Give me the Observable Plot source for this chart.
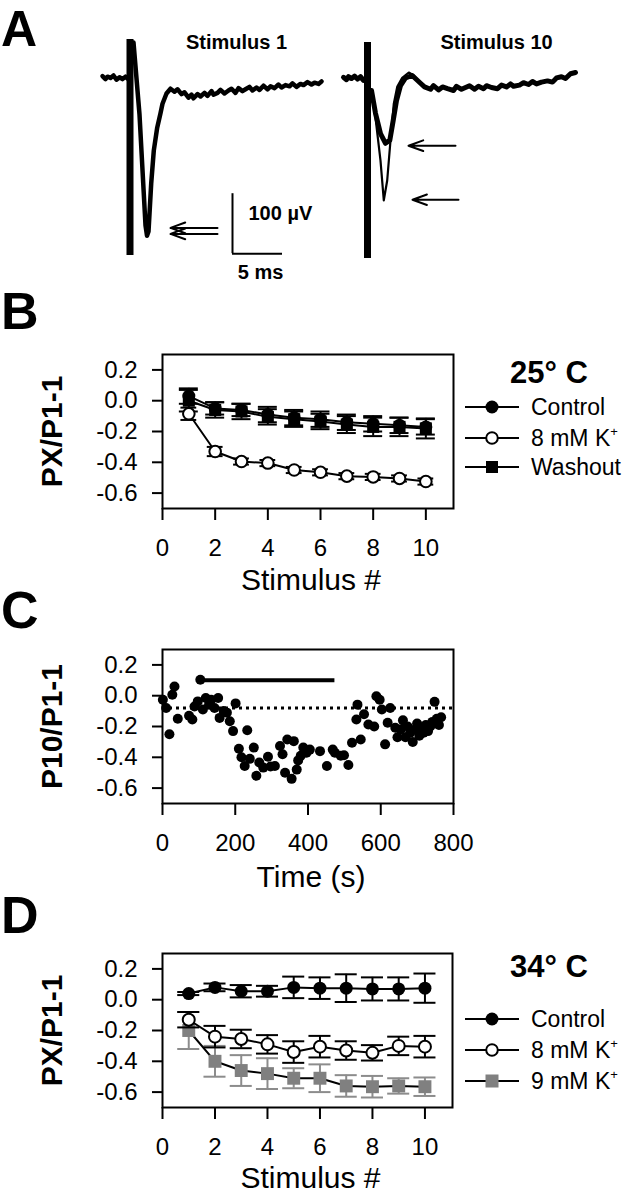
<!DOCTYPE html>
<html><head><meta charset="utf-8">
<script src="https://cdn.jsdelivr.net/npm/d3@7"></script>
<script src="https://cdn.jsdelivr.net/npm/@observablehq/plot@0.6"></script>
<style>
body{margin:0;background:#fff;}
#fig{position:relative;width:628px;height:1200px;font-family:"Liberation Sans",Arial,sans-serif;background:#fff;}
#fig svg{position:absolute;left:0;}
</style></head><body><div id="fig"></div>
<script>
// ---------- Panel A: field potential sweeps (ms, µV) ----------
const sweep1Pre = [[-2.6,4],[-2.3,-1],[-2.1,3],[-1.8,1],[-1.5,5],[-1.2,-2],[-0.9,2],[-0.6,-1],[-0.3,3],[-0.1,0]];
const sweep1Post = [[0.5,60],[1.1,-60],[1.7,-245],[1.85,-262],[2.0,-255],[2.27,-175],[2.53,-120],[2.87,-82],[3.2,-58],[3.4,-42],[3.8,-25],[4.2,-17],[4.6,-22],[4.9,-18],[5.3,-26],[5.6,-23],[6.0,-32],[6.3,-27],[6.5,-33],[6.9,-26],[7.2,-30],[7.6,-24],[7.9,-29],[8.3,-21],[8.5,-27],[8.9,-24],[9.2,-19],[9.6,-25],[10.0,-20],[10.3,-17],[10.7,-24],[11.0,-16],[11.4,-21],[11.7,-18],[12.1,-14],[12.4,-20],[12.8,-15],[13.1,-19],[13.5,-12],[13.9,-18],[14.2,-13],[14.6,-16],[15.0,-10],[15.3,-15],[15.7,-11],[16.1,-13],[16.4,-8],[16.8,-14],[17.2,-9],[17.5,-11],[17.9,-6],[18.3,-10],[18.6,-7],[19.0,-9],[19.3,-5]];
const sweep10Pre = [[-2.4,2],[-2.1,-2],[-1.9,3],[-1.6,0],[-1.3,4],[-1.0,-1],[-0.7,3],[-0.4,-3]];
const sweep10Control = [[0.6,-37],[1.3,-137],[1.63,-203],[1.97,-170],[2.3,-103],[2.63,-42],[2.97,-14],[3.47,1],[4.13,10],[4.63,5],[5.3,-8]];
const sweep10HighK = [[0.4,-20],[0.8,-58],[1.3,-92],[1.8,-108],[2.23,-103],[2.57,-70],[2.9,-37],[3.3,-12],[3.8,1],[4.47,5],[5.3,-8],[5.7,-14],[6.3,-18],[6.6,-12],[7.1,-19],[7.5,-14],[8.0,-17],[8.6,-20],[8.9,-13],[9.4,-18],[9.8,-15],[10.2,-12],[10.7,-18],[11.1,-13],[11.6,-17],[11.9,-12],[12.4,-15],[13.0,-17],[13.4,-11],[13.9,-14],[14.3,-9],[14.6,-13],[15.2,-11],[15.6,-7],[16.1,-10],[16.5,-5],[16.9,-9],[17.4,-6],[18.0,-4],[18.5,-6],[18.9,1],[19.4,3],[19.8,0],[20.3,8],[20.8,10]];
const sweepOffsets = {s1: 0, s10: 23.9};
const artifacts = [{sweep:"s1", t:0.15, top:65, bottom:-295},{sweep:"s10", t:0, top:60, bottom:-300}];
const peakArrows = [
  {sweep:"s1", from:8.9, to:4.2, v:-249},
  {sweep:"s1", from:8.9, to:4.2, v:-259},
  {sweep:"s10", from:8.8, to:4.1, v:-112},
  {sweep:"s10", from:9.1, to:4.5, v:-202}
];
const scaleBar = {t:10.4, v:-292, ms:5, uV:100};
const sweepTitles = [{sweep:"s1", t:10.8, v:60, label:"Stimulus 1"},{sweep:"s10", t:12.9, v:60, label:"Stimulus 10"}];

// ---------- Panel B: 25 °C ----------
const stimulus = [1,2,3,4,5,6,7,8,9,10];
const stimTicks = [0,2,4,6,8,10];
const ratioTicks = [0.2,0,-0.2,-0.4,-0.6];
const bControl = [0.03,-0.05,-0.06,-0.09,-0.11,-0.12,-0.14,-0.15,-0.16,-0.17];
const bControlErr = [0.05,0.04,0.04,0.05,0.05,0.05,0.05,0.05,0.05,0.05];
const bHighK = [-0.085,-0.33,-0.395,-0.405,-0.45,-0.465,-0.49,-0.495,-0.505,-0.525];
const bHighKErr = [0.04,0.03,0.02,0.02,0.02,0.02,0.02,0.02,0.02,0.02];
const bWashout = [0.0,-0.06,-0.07,-0.105,-0.12,-0.135,-0.155,-0.17,-0.17,-0.18];
const bWashoutErr = [0.07,0.05,0.05,0.05,0.05,0.05,0.055,0.06,0.06,0.065];

// ---------- Panel C: time course ----------
const timeTicks = [0,200,400,600,800];
const cPoints = [[1,-0.026],[10,-0.08],[19,-0.25],[27,0.006],[33,0.06],[42,-0.15],[73,-0.13],[82,-0.155],[88,-0.07],[97,-0.037],[104,0.103],[111,-0.09],[119,-0.015],[128,-0.058],[134,-0.026],[143,-0.08],[153,-0.015],[157,-0.144],[168,-0.10],[177,-0.11],[185,-0.166],[194,-0.23],[201,-0.05],[210,-0.344],[217,-0.40],[226,-0.456],[233,-0.224],[240,-0.41],[251,-0.337],[258,-0.52],[266,-0.434],[277,-0.467],[290,-0.396],[297,-0.46],[309,-0.456],[323,-0.327],[330,-0.38],[337,-0.50],[343,-0.284],[355,-0.54],[361,-0.295],[369,-0.48],[373,-0.42],[380,-0.39],[387,-0.337],[396,-0.37],[405,-0.35],[433,-0.36],[452,-0.456],[468,-0.35],[474,-0.37],[490,-0.39],[499,-0.387],[511,-0.45],[521,-0.305],[533,-0.155],[536,-0.058],[545,-0.284],[554,-0.12],[566,-0.187],[582,-0.20],[588,-0.004],[597,-0.026],[603,-0.09],[612,-0.316],[619,-0.176],[626,-0.08],[640,-0.208],[646,-0.27],[655,-0.22],[661,-0.16],[668,-0.27],[674,-0.2],[681,-0.24],[688,-0.3],[694,-0.22],[700,-0.18],[706,-0.26],[712,-0.21],[718,-0.24],[724,-0.19],[730,-0.23],[736,-0.2],[742,-0.17],[748,-0.04],[754,-0.15],[760,-0.19],[766,-0.14]];
const cApplication = [{from:104, to:474, level:0.1}];
const cBaseline = [-0.08];

// ---------- Panel D: 34 °C ----------
const dControl = [0.04,0.08,0.055,0.055,0.08,0.075,0.075,0.07,0.07,0.075];
const dControlErr = [0.01,0.025,0.04,0.035,0.07,0.07,0.09,0.075,0.075,0.095];
const dHighK8 = [-0.13,-0.24,-0.255,-0.29,-0.34,-0.305,-0.33,-0.345,-0.3,-0.305];
const dHighK8Err = [0.05,0.07,0.06,0.06,0.07,0.07,0.06,0.05,0.06,0.07];
const dHighK9 = [-0.2,-0.4,-0.46,-0.48,-0.51,-0.51,-0.56,-0.565,-0.56,-0.565];
const dHighK9Err = [0.12,0.1,0.1,0.1,0.065,0.09,0.07,0.07,0.05,0.06];

const FONT = '"Liberation Sans", Arial, Helvetica, sans-serif';
const fig = document.getElementById("fig");
function place(svg, top){ svg.style.top = top + "px"; fig.appendChild(svg); }

// ---- Panel A ----
const pts = (arr, sweep) => arr.map(([t,v]) => ({t: t + sweepOffsets[sweep], v}));
const plotA = Plot.plot({
  width: 628, height: 290, margin: 0,
  x: {domain: [-12.8, 50.0], axis: null},
  y: {domain: [-353.33, 130], axis: null},
  style: {fontFamily: FONT, background: "transparent", color: "black"},
  marks: [
    Plot.line(pts(sweep1Pre,"s1"), {x:"t", y:"v", stroke:"black", strokeWidth:4.5, strokeLinejoin:"round"}),
    Plot.line(pts(sweep1Post,"s1"), {x:"t", y:"v", stroke:"black", strokeWidth:4.5, strokeLinejoin:"round"}),
    Plot.line(pts(sweep10Pre,"s10"), {x:"t", y:"v", stroke:"black", strokeWidth:5, strokeLinejoin:"round"}),
    Plot.line(pts(sweep10HighK,"s10"), {x:"t", y:"v", stroke:"black", strokeWidth:5, strokeLinejoin:"round"}),
    Plot.line(pts(sweep10Control,"s10"), {x:"t", y:"v", stroke:"black", strokeWidth:2.2, strokeLinejoin:"round"}),
    Plot.ruleX(artifacts, {x: d => d.t + sweepOffsets[d.sweep], y1:"top", y2:"bottom", stroke:"black", strokeWidth:7}),
    Plot.arrow(peakArrows, {x1: d => d.from + sweepOffsets[d.sweep], x2: d => d.to + sweepOffsets[d.sweep], y1:"v", y2:"v", stroke:"black", strokeWidth:2, headLength:13, headAngle:40}),
    Plot.ruleX([scaleBar], {x:"t", y1: d => d.v, y2: d => d.v + d.uV, stroke:"black", strokeWidth:2}),
    Plot.ruleY([scaleBar], {y:"v", x1: d => d.t, x2: d => d.t + d.ms, stroke:"black", strokeWidth:2}),
    Plot.text([scaleBar], {x: d => d.t + 1.6, y: d => d.v + 67, text: d => d.uV + " µV", textAnchor:"start", fontSize:20, fontWeight:"bold"}),
    Plot.text([scaleBar], {x: d => d.t + d.ms/2 + 0.3, y: d => d.v - 31, text: d => d.ms + " ms", fontSize:20, fontWeight:"bold"}),
    Plot.text(sweepTitles, {x: d => d.t + sweepOffsets[d.sweep], y:"v", text:"label", fontSize:20, fontWeight:"bold"})
  ]
});
place(plotA, 0);

// ---- helpers for stimulus panels ----
function rows(values, errors){ return stimulus.map((s,i) => ({s, v: values[i], e: errors[i]})); }
function seriesMarks(data, o){
  const cap = o.cap, err = o.err || "black";
  return [
    Plot.ruleX(data, {x:"s", y1: d => d.v - d.e, y2: d => d.v + d.e, stroke: err, strokeWidth: 2}),
    Plot.ruleY(data, {y: d => d.v + d.e, x1: d => d.s - cap, x2: d => d.s + cap, stroke: err, strokeWidth: 2}),
    Plot.ruleY(data, {y: d => d.v - d.e, x1: d => d.s - cap, x2: d => d.s + cap, stroke: err, strokeWidth: 2}),
    Plot.line(data, {x:"s", y:"v", stroke:"black", strokeWidth: 2}),
    Plot.dot(data, {x:"s", y:"v", symbol: o.symbol, r: o.r, fill: o.fill, stroke: o.stroke || "none", strokeWidth: 2})
  ];
}
function frameAxes(xTicks){
  return [
    Plot.frame({stroke:"black", strokeWidth: 2}),
    Plot.axisX({ticks: xTicks, tickSize: 12, tickPadding: 18, strokeWidth: 2, tickFormat: d => String(d), label: null}),
    Plot.axisY({ticks: ratioTicks, tickSize: 10, tickPadding: 15, strokeWidth: 2, tickFormat: d => d.toFixed(1), label: null})
  ];
}
function axisTitles(xTitle, yTitle, dyX){
  return [
    Plot.text([yTitle], {frameAnchor:"left", textAnchor:"middle", lineAnchor:"middle", rotate:-90, dx:-110, fontSize:30, fontWeight:"bold"}),
    Plot.text([xTitle], {frameAnchor:"bottom", textAnchor:"middle", lineAnchor:"middle", dy: dyX, dx: 3, fontSize:30})
  ];
}
const panelStyle = {fontFamily: FONT, fontSize: "24px", background: "transparent", color: "black"};

// ---- Panel B ----
const plotB = Plot.plot({
  width: 628, height: 300, marginTop: 54, marginBottom: 92, marginLeft: 162, marginRight: 175,
  x: {domain: [0, 11.05]}, y: {domain: [-0.7, 0.3]},
  style: panelStyle,
  marks: [
    ...seriesMarks(rows(bControl, bControlErr), {symbol:"circle", r:6.5, fill:"black", cap:0.36}),
    ...seriesMarks(rows(bWashout, bWashoutErr), {symbol:"square", r:6.8, fill:"black", cap:0.36}),
    ...seriesMarks(rows(bHighK, bHighKErr), {symbol:"circle", r:5.8, fill:"white", stroke:"black", cap:0.3}),
    ...frameAxes(stimTicks),
    ...axisTitles("Stimulus #", "PX/P1-1", 72)
  ]
});
place(plotB, 300);

// ---- Panel C ----
const plotC = Plot.plot({
  width: 628, height: 300, marginTop: 49, marginBottom: 97, marginLeft: 162, marginRight: 175,
  x: {domain: [0, 800]}, y: {domain: [-0.7, 0.3]},
  style: panelStyle,
  marks: [
    Plot.ruleY(cBaseline, {stroke:"black", strokeWidth:3, strokeDasharray:"3,4"}),
    Plot.ruleY(cApplication, {y:"level", x1:"from", x2:"to", stroke:"black", strokeWidth:4}),
    Plot.dot(cPoints, {x: d => d[0], y: d => d[1], r:5, fill:"black"}),
    ...frameAxes(timeTicks),
    ...axisTitles("Time (s)", "P10/P1-1", 74)
  ]
});
place(plotC, 600);

// ---- Panel D ----
const plotD = Plot.plot({
  width: 628, height: 300, marginTop: 53, marginBottom: 93, marginLeft: 162, marginRight: 176,
  x: {domain: [0, 11.05]}, y: {domain: [-0.7, 0.3]},
  style: panelStyle,
  marks: [
    ...seriesMarks(rows(dHighK9, dHighK9Err), {symbol:"square", r:7.3, fill:"#808080", err:"#8c8c8c", cap:0.42}),
    ...seriesMarks(rows(dHighK8, dHighK8Err), {symbol:"circle", r:6, fill:"white", stroke:"black", cap:0.42}),
    ...seriesMarks(rows(dControl, dControlErr), {symbol:"circle", r:6.5, fill:"black", cap:0.42}),
    ...frameAxes(stimTicks),
    ...axisTitles("Stimulus #", "PX/P1-1", 71)
  ]
});
place(plotD, 900);

// ---- overlay: panel letters and legends ----
function legendItem(cy, kind, label){
  let sym = "";
  if (kind === "filled") sym = `<circle cx="492" cy="${cy}" r="6.5" fill="black"/>`;
  if (kind === "open") sym = `<circle cx="492" cy="${cy}" r="5.8" fill="white" stroke="black" stroke-width="2"/>`;
  if (kind === "square") sym = `<rect x="486" y="${cy-6}" width="12" height="12" fill="black"/>`;
  if (kind === "gray") sym = `<rect x="485.5" y="${cy-6.5}" width="13" height="13" fill="#808080"/>`;
  return `<line x1="465" x2="519" y1="${cy}" y2="${cy}" stroke="black" stroke-width="2"/>${sym}<text x="531" y="${cy+8}" font-size="23">${label}</text>`;
}
const Kp = 'K<tspan font-size="13" dy="-10">+</tspan>';
const overlay = `<svg width="628" height="1200" style="top:0" font-family='${FONT}' fill="black">
<text x="1" y="46" font-size="50" font-weight="bold">A</text>
<text x="1" y="329" font-size="52" font-weight="bold">B</text>
<text x="1" y="628" font-size="52" font-weight="bold">C</text>
<text x="1" y="933" font-size="52" font-weight="bold">D</text>
<text x="549" y="383" font-size="31" font-weight="bold" text-anchor="middle">25° C</text>
${legendItem(407, "filled", "Control")}
${legendItem(438, "open", "8 mM " + Kp)}
${legendItem(467, "square", "Washout")}
<text x="549" y="977" font-size="31" font-weight="bold" text-anchor="middle">34° C</text>
${legendItem(1019, "filled", "Control")}
${legendItem(1050, "open", "8 mM " + Kp)}
${legendItem(1081, "gray", "9 mM " + Kp)}
</svg>`;
fig.insertAdjacentHTML("beforeend", overlay);
</script></body></html>
